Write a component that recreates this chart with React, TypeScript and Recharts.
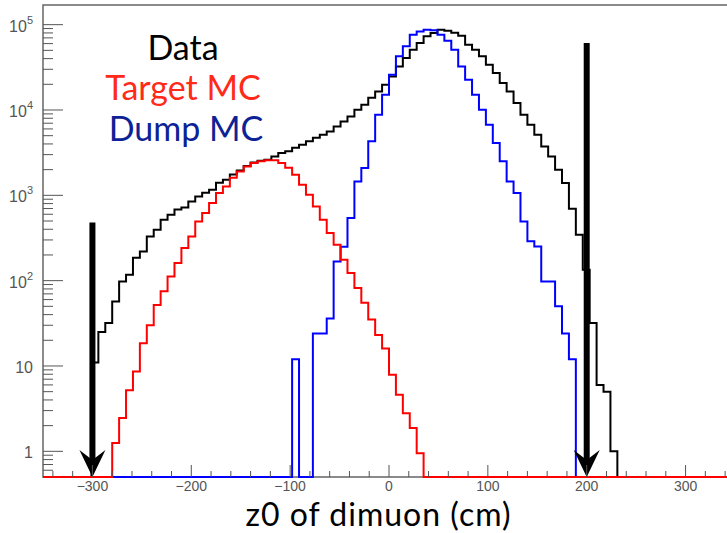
import { ComposedChart, Line, XAxis, YAxis, ReferenceArea, ReferenceLine } from "recharts";

// 100 bins of 7 cm from -350 to 350 (0 = empty bin)
const binLow = Array.from({ length: 100 }, (_, i) => -350 + 7 * i);

const dataCounts = [
  0, 0, 0, 0, 0, 0, 0, 11, 25, 32,
  57, 98, 117, 185, 220, 330, 395, 518, 593, 680,
  718, 848, 970, 1070, 1160, 1400, 1520, 1750, 1950, 2200,
  2420, 2540, 2610, 2860, 3135, 3275, 3610, 3920, 4290, 4735,
  5130, 5610, 6420, 7350, 8410, 10070, 11530, 13920, 16510, 19770,
  24760, 32440, 40700, 50950, 61000, 72970, 80000, 87400, 85100, 80600,
  74300, 58300, 50900, 42500, 34000, 27200, 20700, 16500, 12100, 8800,
  6730, 5130, 3740, 2860, 1990, 1390, 697, 345, 134, 32,
  6, 5, 1, 0, 0, 0, 0, 0, 0, 0,
  0, 0, 0, 0, 0, 0, 0, 0, 0, 0,
];

const targetMC = [
  0, 0, 0, 0, 0, 0, 0, 0, 0, 0,
  1.25, 2.45, 5.2, 8.6, 18.5, 30, 52, 75, 112, 161,
  241, 330, 494, 620, 812, 1065, 1272, 1607, 1905, 2180,
  2390, 2500, 2575, 2575, 2390, 2110, 1745, 1330, 1016, 741,
  518, 361, 264, 176, 123, 82, 55, 35, 23, 16,
  7.9, 4.6, 2.8, 1.87, 0.95, 0, 0, 0, 0, 0,
  0, 0, 0, 0, 0, 0, 0, 0, 0, 0,
  0, 0, 0, 0, 0, 0, 0, 0, 0, 0,
  0, 0, 0, 0, 0, 0, 0, 0, 0, 0,
  0, 0, 0, 0, 0, 0, 0, 0, 0, 0,
];

const dumpMC = [
  0, 0, 0, 0, 0, 0, 0, 0, 0, 0,
  0, 0, 0, 0, 0, 0, 0, 0, 0, 0,
  0, 0, 0, 0, 0, 0, 0, 0, 0, 0,
  0, 0, 0, 0, 0, 0, 12, 0, 0, 24,
  24, 36, 168, 250, 542, 1455, 2090, 4290, 8810, 15100,
  25900, 42500, 55700, 76400, 83400, 87000, 86000, 76400, 64900, 50900,
  32400, 22600, 15100, 10070, 6730, 4100, 2500, 1455, 1065, 494,
  289, 251, 98, 98, 50, 24, 12, 0, 0, 0,
  0, 0, 0, 0, 0, 0, 0, 0, 0, 0,
  0, 0, 0, 0, 0, 0, 0, 0, 0, 0,
];

const xTicks = [
  -340, -320, -300, -280, -260, -240, -220, -200, -180, -160, -140, -120, -100, -80, -60, -40, -20,
  0, 20, 40, 60, 80, 100, 120, 140, 160, 180, 200, 220, 240, 260, 280, 300, 320, 340,
];
const decades = [1, 10, 100, 1000, 10000, 100000];
const yTicks = [0.6, 0.7, 0.8, 0.9, ...decades.flatMap((d) => [1, 2, 3, 4, 5, 6, 7, 8, 9].map((m) => m * d))];

// arrows marking the z0 cut
const cuts = [
  { x: -300, top: 480 },
  { x: 200, top: 61000 },
];

const FLOOR = 0.5;
const YMAX = 170000;
const PLOT_LEFT = 43;
const PLOT_BOTTOM = 477;

const lift = (v: number) => (v > 0 ? v : FLOOR);

const rows = binLow.map((u, i) => ({
  u,
  data: lift(dataCounts[i]),
  target: lift(targetMC[i]),
  dump: lift(dumpMC[i]),
}));
rows.push({ ...rows[rows.length - 1], u: 350 });

const XTick = (props: any) => {
  const { x, payload } = props;
  const v = payload.value;
  const major = v % 100 === 0;
  return (
    <g>
      <line x1={x} x2={x} y1={PLOT_BOTTOM} y2={PLOT_BOTTOM - (major ? 12 : 6)} stroke="#555" strokeWidth={1} />
      {major && (
        <text x={x} y={491} textAnchor="middle" fontFamily="Liberation Sans, Arial, sans-serif" fontSize={14} fill="#555">
          {v < 0 ? "\u2212" + Math.abs(v) : v}
        </text>
      )}
    </g>
  );
};

const YTick = (props: any) => {
  const { y, payload } = props;
  const v = payload.value;
  const major = decades.includes(v);
  const exp = Math.round(Math.log10(v));
  return (
    <g>
      <line x1={PLOT_LEFT} x2={PLOT_LEFT + (major ? 20 : 10)} y1={y} y2={y} stroke="#555" strokeWidth={1} />
      {major && (
        <text x={33} y={y + 7} textAnchor="end" fontFamily="Liberation Sans, Arial, sans-serif" fontSize={16} fill="#555">
          {exp < 2 ? String(v) : "10"}
          {exp >= 2 && (
            <tspan dy={-8} fontSize={11}>
              {exp}
            </tspan>
          )}
        </text>
      )}
    </g>
  );
};

const Arrow = (props: any) => {
  const { x1, y1, y2 } = props;
  const top = Math.min(y1, y2);
  const tip = Math.max(y1, y2);
  return (
    <g>
      <line x1={x1} x2={x1} y1={top} y2={tip - 14} stroke="#000" strokeWidth={6} />
      <polygon points={`${x1},${tip} ${x1 - 13},${tip - 27} ${x1},${tip - 17} ${x1 + 13},${tip - 27}`} fill="#000" />
    </g>
  );
};

const App = () => {
  return (
    <div style={{ position: "fixed", left: 0, top: 0, width: 727, height: 533, overflow: "hidden", background: "#fff" }}>
      <div style={{ position: "relative", width: 740, height: 533 }}>
        <ComposedChart width={740} height={533} data={rows} margin={{ top: 5, right: 5, bottom: 0, left: 0 }}>
          <XAxis
            dataKey="u"
            type="number"
            domain={[-350, 350]}
            ticks={xTicks}
            interval={0}
            height={56}
            axisLine={false}
            tickLine={false}
            tick={(p: any) => <XTick {...p} />}
          />
          <YAxis
            type="number"
            scale="log"
            domain={[FLOOR, YMAX]}
            ticks={yTicks}
            interval={0}
            width={43}
            axisLine={false}
            tickLine={false}
            tick={(p: any) => <YTick {...p} />}
          />
          <ReferenceArea x1={-350} x2={350} y1={FLOOR} y2={YMAX} fill="none" stroke="#666" strokeWidth={1.5} ifOverflow="visible" />
          <Line dataKey="data" type="stepAfter" stroke="#000" strokeWidth={2} dot={false} isAnimationActive={false} />
          <Line dataKey="dump" type="stepAfter" stroke="#0000ff" strokeWidth={2} dot={false} isAnimationActive={false} />
          <Line dataKey="target" type="stepAfter" stroke="#ff0000" strokeWidth={2} dot={false} isAnimationActive={false} />
          {cuts.map((c) => (
            <ReferenceLine
              key={c.x}
              segment={[
                { x: c.x, y: c.top },
                { x: c.x, y: FLOOR },
              ]}
              ifOverflow="visible"
              shape={(p: any) => <Arrow {...p} />}
            />
          ))}
        </ComposedChart>
        <svg width={740} height={533} style={{ position: "absolute", left: 0, top: 0, pointerEvents: "none" }}>
          <g fontFamily="Lato, 'Open Sans', sans-serif" fontSize={34} textAnchor="middle">
            <text x={183} y={60} fill="#000">Data</text>
            <text x={183} y={100} fill="#ff2a18">Target MC</text>
            <text x={186} y={141} fill="#0c2296">Dump MC</text>
          </g>
          <text
            x={378}
            y={526}
            textAnchor="middle"
            fontFamily="Lato, 'Open Sans', sans-serif"
            fontSize={32}
            textLength={265}
            lengthAdjust="spacing"
            fill="#000"
          >
            z0 of dimuon (cm)
          </text>
        </svg>
      </div>
    </div>
  );
};

export default App;
